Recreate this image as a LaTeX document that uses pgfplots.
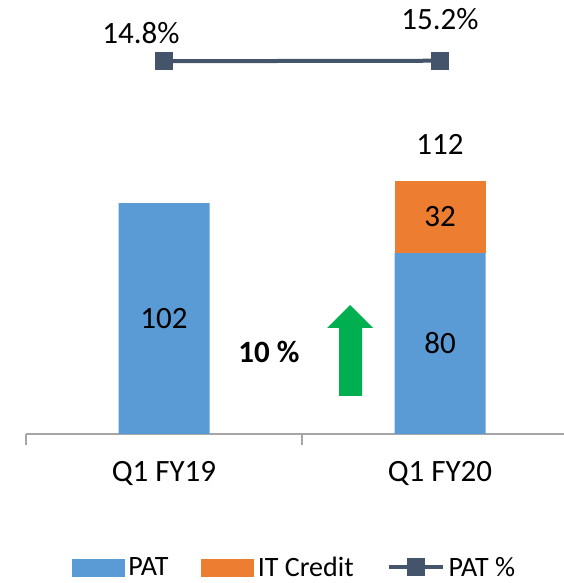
\documentclass[border=0pt]{standalone}
\usepackage{fontspec}
\setmainfont{Carlito}
\usepackage{pgfplots}
\pgfplotsset{compat=1.18}
\definecolor{patblue}{HTML}{5B9BD5}
\definecolor{itorange}{HTML}{ED7D31}
\definecolor{lineslate}{HTML}{44546A}
\definecolor{arrgreen}{HTML}{00B050}
\definecolor{axgrey}{HTML}{A6A6A6}
\pgfplotsset{
  linelegend/.style={legend image code/.code={\draw[##1, mark repeat=2, mark phase=2] plot coordinates {(0bp,0bp) (27bp,0bp) (54bp,0bp)};}},
}
\begin{document}
\begin{tikzpicture}[x=1bp,y=1bp,font=\fontsize{31bp}{36bp}\selectfont]
\begin{axis}[
  at={(26bp,149bp)}, anchor=south west,
  scale only axis, width=552bp, height=414bp,
  xmin=-0.5, xmax=1.5, ymin=0, ymax=183,
  axis x line*=bottom, axis y line=none,
  x axis line style={draw=axgrey, line width=1.2bp},
  xtick={0,1}, xticklabels={Q1 FY19, Q1 FY20},
  major tick length=0pt,
  xticklabel style={yshift=-24bp},
  extra x ticks={-0.5,0.5,1.5}, extra x tick labels={},
  extra x tick style={major tick length=11bp, tick align=outside, tick style={draw=axgrey, line width=1.2bp}},
  ytick=\empty,
  ybar stacked, bar width=91bp,
  clip=false,
]
\addplot[fill=patblue, draw=none] coordinates {(0,102) (1,80)};
\addplot[fill=itorange, draw=none] coordinates {(0,0) (1,32)};
\coordinate (l102) at (axis cs:0,51);
\coordinate (l80) at (axis cs:1,40);
\coordinate (l32) at (axis cs:1,96);
\coordinate (l112) at (axis cs:1,128);
\end{axis}
\node at (l102) {102};
\node at (l80) {80};
\node at (l32) {32};
\node at (l112) {112};
\begin{axis}[
  at={(26bp,149bp)}, anchor=south west,
  scale only axis, width=552bp, height=414bp,
  xmin=-0.5, xmax=1.5, ymin=-300, ymax=49.6,
  hide axis, clip=false,
  legend columns=3,
  legend style={draw=none, fill=none, at={(0.0833,-0.322)}, anchor=west,
    inner sep=0pt, outer sep=0pt, nodes={inner sep=4bp},
    font=\fontsize{28bp}{32bp}\selectfont,
    /tikz/every even column/.append style={column sep=29bp}},
  legend cell align=left,
]
\addlegendimage{legend image code/.code={\fill[patblue] (0bp,-8.5bp) rectangle (52bp,8.5bp);}}
\addlegendentry{PAT}
\addlegendimage{legend image code/.code={\fill[itorange] (0bp,-8.5bp) rectangle (52bp,8.5bp);}}
\addlegendentry{IT Credit}
\addplot[lineslate, line width=4bp, mark=square*, mark size=7bp, mark options={solid, fill=lineslate}, linelegend]
  coordinates {(0,14.8) (1,15.2)};
\addlegendentry{PAT \%}
\node[xshift=-23bp, yshift=28bp] at (axis cs:0,14.8) {14.8\%};
\node[yshift=42bp] at (axis cs:1,15.2) {15.2\%};
\end{axis}
\fill[arrgreen] (339,187) -- (362,187) -- (362,255) -- (373,255) -- (350,278) -- (327,255) -- (339,255) -- cycle;
\node[font=\fontsize{31bp}{36bp}\selectfont\bfseries] at (269,231) {10 \%};
\pgfresetboundingbox
\useasboundingbox (0,0) rectangle (564,583);
\end{tikzpicture}
\end{document}
